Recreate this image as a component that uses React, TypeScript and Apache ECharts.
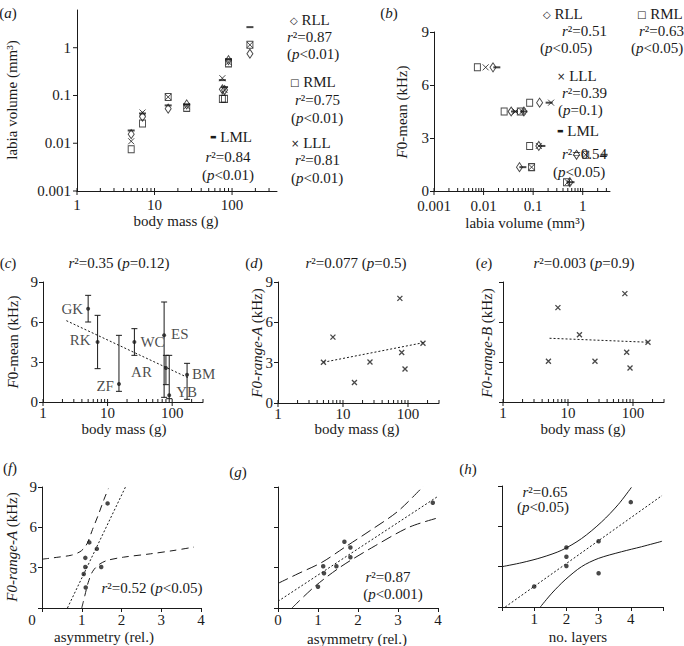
import React, { useEffect, useRef } from 'react';
import * as echarts from 'echarts';

// ---------- data ----------
const SPECIES = ['GK', 'RK', 'ZF', 'WC', 'ES', 'AR', 'YB', 'BM'];
const BODY_MASS = [5, 7, 15, 26, 75, 80, 90, 170];
const VOL_RLL = [0.0155, 0.036, 0.053, 0.065, 0.135, 0.13, 0.55, 0.75];
const VOL_RML = [0.0075, 0.026, 0.093, 0.055, 0.085, 0.085, 0.47, 1.15];
const VOL_LLL = [0.011, 0.044, 0.093, 0.06, 0.23, 0.13, 0.5, 1.15];
const VOL_LML = [0.0185, 0.042, 0.062, 0.065, 0.21, 0.15, 0.58, 2.7];
const F0_MEAN = [7, 4.5, 1.35, 4.5, 5, 2.55, 0.5, 2.05];
const F0_MEAN_LOW = [6, 2.5, 0.8, 3.5, 0.35, 1.3, 0.25, 0.2];
const F0_MEAN_HIGH = [8, 6.5, 5, 5.5, 7.5, 3.5, 3.5, 2.9];
const F0_RANGE_A = [3.03, 4.9, 1.53, 3.05, 7.78, 3.75, 2.53, 4.45];
const F0_RANGE_B = [3.05, 7.08, 5.05, 3.05, 8.13, 3.73, 2.55, 4.48];

const REG_C = [[2.3, 6.1], [180, 1.8]];
const REG_D = [[5, 3.03], [178, 4.5]];
const REG_E = [[5.2, 4.78], [176, 4.48]];

const ASYM_F = [1.65, 1.19, 1.38, 1.09, 1.09, 1.49, 1.05, 1.1];
const RANGE_A_F = [7.78, 4.88, 4.4, 3.73, 3.05, 3.05, 2.53, 1.53];
const REG_F = [[0.64, 0], [2.1, 9]];
const BAND_F_UPPER = [[0, 3.63], [0.405, 3.78], [0.743, 3.93], [0.954, 4.18], [1.08, 4.53], [1.16, 4.95], [1.27, 5.83], [1.42, 6.95], [1.56, 8.08], [1.67, 8.88]];
const BAND_F_LOWER = [[1.0, 0], [1.08, 0.95], [1.16, 1.88], [1.27, 2.7], [1.42, 3.2], [1.63, 3.53], [2.05, 3.78], [2.73, 4.03], [3.32, 4.28], [3.82, 4.53]];

const ASYM_G = [3.87, 1.66, 1.81, 1.81, 1.13, 1.46, 1.15, 1.0];
const RANGE_A_G = [7.83, 4.93, 4.5, 3.78, 3.1, 3.1, 2.58, 1.58];
const REG_G = [[0, 0.5], [3.97, 8.25]];
const BAND_G_UPPER = [[0, 1.83], [0.5, 2.55], [1.1, 3.4], [1.66, 4.5], [2.3, 5.75], [3.0, 7.2], [3.64, 9.08]];
const BAND_G_LOWER = [[0.35, 0], [0.93, 1.63], [1.6, 3.13], [2.43, 4.63], [3.27, 6.0], [3.97, 6.68]];

const LAYERS_H = [1, 2, 2, 2, 3, 3, 4];
const RANGE_A_H = [1.52, 4.43, 3.74, 3.05, 4.89, 2.51, 7.8];
const REG_H = [[0.1, 0], [4.97, 8.29]];
const BAND_H_UPPER = [[0, 3.0], [0.62, 3.3], [1.24, 3.69], [1.86, 4.23], [2.47, 5.09], [3.09, 6.32], [3.61, 7.62], [4.02, 8.9]];
const BAND_H_LOWER = [[1.19, 0], [1.55, 1.03], [1.96, 2.02], [2.47, 3.0], [2.99, 3.61], [3.71, 4.11], [4.33, 4.48], [4.97, 4.89]];

// ---------- style ----------
const FS = 15;
const FONT = 'Liberation Serif';
const INK = '#1a1a1a';
const lineStyle = { color: INK, width: 1 };
const labelBase = { color: INK, fontSize: FS, fontFamily: FONT };
const RICH: any = {
  i: { fontStyle: 'italic', fontSize: FS, fontFamily: FONT, fill: INK },
  m: { fontSize: 10, fontFamily: 'DejaVu Sans', fill: INK },
  d: { fontSize: 7, fontFamily: 'DejaVu Sans', fill: INK },
};

function T(x: number, y: number, text: string, align = 'center', rot = 0) {
  return {
    type: 'text', x, y, rotation: rot, silent: true,
    style: { text, fill: INK, fontSize: FS, fontFamily: FONT, align, verticalAlign: 'middle', rich: RICH },
  };
}

function powFmt(v: number) {
  const l = Math.log10(v);
  const r = Math.round(l);
  if (Math.abs(l - r) > 1e-6) return '';
  return r < 0 ? Math.pow(10, r).toFixed(-r) : String(Math.pow(10, r));
}

function logAxis(gridIndex: number, min: number, max: number, margin: number) {
  return {
    type: 'log', logBase: 10, gridIndex, min, max,
    axisLine: { show: true, onZero: false, lineStyle },
    axisTick: { show: false }, splitLine: { show: false },
    axisLabel: { margin, formatter: powFmt, ...labelBase },
  };
}

function valAxis(gridIndex: number, max: number, interval: number, margin: number, fmt: any) {
  return {
    type: 'value', gridIndex, min: 0, max, interval,
    axisLine: { show: true, onZero: false, lineStyle },
    axisTick: { show: true, length: 4, lineStyle },
    splitLine: { show: false },
    axisLabel: fmt === false ? { show: false } : { margin, formatter: fmt, ...labelBase },
  };
}

function ticks(xi: number, yi: number, pts: number[][], seg: number[]) {
  return {
    type: 'custom', xAxisIndex: xi, yAxisIndex: yi, silent: true, clip: false, z: 3, data: pts,
    renderItem: (_p: any, api: any) => {
      const c = api.coord([api.value(0), api.value(1)]);
      return {
        type: 'line',
        shape: { x1: c[0] + seg[0], y1: c[1] + seg[1], x2: c[0] + seg[2], y2: c[1] + seg[3] },
        style: { stroke: INK, lineWidth: 1 },
      };
    },
  };
}

function minorLog(fromExp: number, toExp: number, maxVal: number) {
  const out: number[] = [];
  for (let e = fromExp; e <= toExp; e++) {
    for (let k = 2; k <= 9; k++) {
      const v = k * Math.pow(10, e);
      if (v <= maxVal * 1.0001) out.push(v);
    }
  }
  return out;
}

const hollow = { color: 'rgba(0,0,0,0)', borderColor: INK, borderWidth: 1 };
const CROSS = 'path://M0,0L10,10M10,0L0,10';
const SYM: any = {
  RLL: { symbol: 'diamond', symbolSize: [6, 9], itemStyle: hollow },
  RML: { symbol: 'rect', symbolSize: [6, 7], itemStyle: hollow },
  LLL: { symbol: CROSS, symbolSize: 6, itemStyle: hollow },
  LML: { symbol: 'rect', symbolSize: [7, 2], itemStyle: { color: INK } },
};

function scatter(xi: number, yi: number, data: any[], sym: any, extra: any = {}) {
  return { type: 'scatter', xAxisIndex: xi, yAxisIndex: yi, data, silent: true, z: 4, ...sym, ...extra };
}

function line(xi: number, yi: number, data: number[][], type: any, smooth: number | boolean = false) {
  return {
    type: 'line', xAxisIndex: xi, yAxisIndex: yi, data, symbol: 'none', showSymbol: false, silent: true,
    smooth, lineStyle: { color: INK, width: 1, type }, z: 2,
  };
}

const DOT = { symbol: 'circle', symbolSize: 4.5, itemStyle: { color: INK } };
const SMALLX = { symbol: CROSS, symbolSize: 5, itemStyle: { color: 'rgba(0,0,0,0)', borderColor: INK, borderWidth: 1.3 } };

const LABEL_PLACE: any[] = [
  ['left', 3, [0, 0]], ['left', 5, [0, -2]], ['left', 3, [0, 2]], ['right', 4, [0, 0]],
  ['right', 5, [0, -1]], ['left', 12, [0, 4]], ['right', 5, [0, -3]], ['right', 3, [0, -1]],
];

function buildOption() {
  const MASS_MAJOR = [1, 10, 100];
  const VOL_MAJOR = [0.001, 0.01, 0.1, 1];
  const yMaxA = Math.pow(10, 0.79);
  const xMaxB = Math.pow(10, 0.55);

  const grid = [
    { left: 77, top: 10, width: 200, height: 181 },
    { left: 434, top: 32, width: 176, height: 159 },
    { left: 43, top: 282, width: 160, height: 120 },
    { left: 278, top: 282, width: 161, height: 121 },
    { left: 503, top: 282, width: 161, height: 120 },
    { left: 42, top: 487, width: 159, height: 121 },
    { left: 278, top: 487, width: 160, height: 121 },
    { left: 502, top: 486, width: 161, height: 121 },
  ].map((g) => ({ ...g, outerBoundsMode: 'none', containLabel: false }));

  const xAxis = [
    logAxis(0, 1, 380, 6),
    logAxis(1, 0.001, xMaxB, 7),
    logAxis(2, 1, 300, 3),
    logAxis(3, 1, 300, 3),
    logAxis(4, 1, 300, 3),
    valAxis(5, 4, 1, 4, (v: number) => (v === 0 ? '' : String(v))),
    valAxis(6, 4, 1, 4, (v: number) => String(v)),
    valAxis(7, 5, 1, 4, (v: number) => (v >= 1 && v <= 4 ? String(v) : '')),
  ];
  const yAxis = [
    logAxis(0, 0.001, yMaxA, 6),
    valAxis(1, 9, 3, 5, (v: number) => String(v)),
    valAxis(2, 9, 3, 5, (v: number) => String(v)),
    valAxis(3, 9, 3, 5, (v: number) => String(v)),
    valAxis(4, 9, 3, 5, false),
    valAxis(5, 9, 3, 5, (v: number) => (v === 0 ? '' : String(v))),
    valAxis(6, 9, 3, 5, false),
    valAxis(7, 9, 3, 5, false),
  ];

  const series: any[] = [];
  // (a)
  series.push(ticks(0, 0, MASS_MAJOR.map((v) => [v, 0.001]), [0, -3, 0, 4]));
  series.push(ticks(0, 0, minorLog(0, 2, 380).map((v) => [v, 0.001]), [0, 0, 0, -3]));
  series.push(ticks(0, 0, VOL_MAJOR.map((v) => [1, v]), [-4, 0, 0, 0]));
  series.push(scatter(0, 0, BODY_MASS.map((m, i) => [m, VOL_RLL[i]]), SYM.RLL));
  series.push(scatter(0, 0, BODY_MASS.map((m, i) => [m, VOL_RML[i]]), SYM.RML));
  series.push(scatter(0, 0, BODY_MASS.map((m, i) => [m, VOL_LLL[i]]), SYM.LLL));
  series.push(scatter(0, 0, BODY_MASS.map((m, i) => [m, VOL_LML[i]]), SYM.LML));
  // (b)
  series.push(ticks(1, 1, VOL_MAJOR.map((v) => [v, 0]), [0, -3, 0, 4]));
  series.push(ticks(1, 1, minorLog(-3, 0, xMaxB).map((v) => [v, 0]), [0, 0, 0, -3]));
  series.push(scatter(1, 1, VOL_RLL.map((v, i) => [v, F0_MEAN[i]]), SYM.RLL));
  series.push(scatter(1, 1, VOL_RML.map((v, i) => [v, F0_MEAN[i]]), SYM.RML));
  series.push(scatter(1, 1, VOL_LLL.map((v, i) => [v, F0_MEAN[i]]), SYM.LLL));
  series.push(scatter(1, 1, VOL_LML.map((v, i) => [v, F0_MEAN[i]]), SYM.LML));
  // (c),(d),(e) ticks
  for (const k of [2, 3, 4]) {
    series.push(ticks(k, k, MASS_MAJOR.map((v) => [v, 0]), [0, -3, 0, 4]));
    series.push(ticks(k, k, minorLog(0, 2, 300).map((v) => [v, 0]), [0, 0, 0, -3]));
  }
  // (c)
  series.push({
    type: 'custom', xAxisIndex: 2, yAxisIndex: 2, silent: true, clip: false, z: 3,
    data: BODY_MASS.map((m, i) => [m, F0_MEAN_LOW[i], F0_MEAN_HIGH[i]]),
    encode: { x: 0, y: [1, 2] },
    renderItem: (_p: any, api: any) => {
      const lo = api.coord([api.value(0), api.value(1)]);
      const hi = api.coord([api.value(0), api.value(2)]);
      const st = { stroke: INK, lineWidth: 1 };
      return {
        type: 'group',
        children: [
          { type: 'line', shape: { x1: lo[0], y1: lo[1], x2: hi[0], y2: hi[1] }, style: st },
          { type: 'line', shape: { x1: lo[0] - 3, y1: lo[1], x2: lo[0] + 3, y2: lo[1] }, style: st },
          { type: 'line', shape: { x1: hi[0] - 3, y1: hi[1], x2: hi[0] + 3, y2: hi[1] }, style: st },
        ],
      };
    },
  });
  series.push(line(2, 2, REG_C, [2, 2]));
  series.push(scatter(2, 2, BODY_MASS.map((m, i) => ({
    value: [m, F0_MEAN[i]],
    label: {
      show: true, formatter: SPECIES[i], position: LABEL_PLACE[i][0], distance: LABEL_PLACE[i][1],
      offset: LABEL_PLACE[i][2], ...labelBase,
    },
  })), { symbol: 'circle', symbolSize: 4, itemStyle: { color: INK } }));
  // (d)
  series.push(line(3, 3, REG_D, [2, 2]));
  series.push(scatter(3, 3, BODY_MASS.map((m, i) => [m, F0_RANGE_A[i]]), SMALLX));
  // (e)
  series.push(line(4, 4, REG_E, [2, 2]));
  series.push(scatter(4, 4, BODY_MASS.map((m, i) => [m, F0_RANGE_B[i]]), SMALLX));
  // (f)
  series.push(line(5, 5, REG_F, [2, 2]));
  series.push(line(5, 5, BAND_F_UPPER, [7, 5], 0.3));
  series.push(line(5, 5, BAND_F_LOWER, [7, 5], 0.3));
  series.push(scatter(5, 5, ASYM_F.map((a, i) => [a, RANGE_A_F[i]]), DOT));
  // (g)
  series.push(line(6, 6, REG_G, [2, 2]));
  series.push(line(6, 6, BAND_G_UPPER, [11, 5], 0.3));
  series.push(line(6, 6, BAND_G_LOWER, [11, 5], 0.3));
  series.push(scatter(6, 6, ASYM_G.map((a, i) => [a, RANGE_A_G[i]]), DOT));
  // (h)
  series.push(line(7, 7, REG_H, [2, 2]));
  series.push(line(7, 7, BAND_H_UPPER, 'solid', 0.3));
  series.push(line(7, 7, BAND_H_LOWER, 'solid', 0.3));
  series.push(scatter(7, 7, LAYERS_H.map((a, i) => [a, RANGE_A_H[i]]), DOT));

  const R = Math.PI / 2;
  const graphic = [
    // (a)
    T(8, 13, '({i|a})'),
    T(12, 100, 'labia volume (mm³)', 'center', R),
    T(176, 221, 'body mass (g)'),
    T(290, 20, '{m|◇} RLL', 'left'),
    T(287, 37, '{i|r}²=0.87', 'left'),
    T(287, 54, '({i|p}<0.01)', 'left'),
    T(290, 82, '{m|□} RML', 'left'),
    T(295, 100, '{i|r}²=0.75', 'left'),
    T(291, 118, '({i|p}<0.01)', 'left'),
    T(291, 143, '{m|×} LLL', 'left'),
    T(295, 160, '{i|r}²=0.81', 'left'),
    T(291, 178, '({i|p}<0.01)', 'left'),
    T(231, 137, '{d|▬} LML'),
    T(228, 157, '{i|r}²=0.84'),
    T(228, 175, '({i|p}<0.01)'),
    // (b)
    T(389, 13, '({i|b})'),
    T(402, 112, '{i|F}0-mean (kHz)', 'center', R),
    T(525, 223, 'labia volume (mm³)'),
    T(543, 14, '{m|◇} RLL', 'left'),
    T(562, 31, '{i|r}²=0.51', 'left'),
    T(540, 48, '({i|p}<0.05)', 'left'),
    T(637, 14, '{m|□} RML', 'left'),
    T(639, 31, '{i|r}²=0.63', 'left'),
    T(631, 48, '({i|p}<0.05)', 'left'),
    T(557, 76, '{m|×} LLL', 'left'),
    T(562, 93, '{i|r}²=0.39', 'left'),
    T(558, 110, '({i|p}=0.1)', 'left'),
    T(557, 131, '{d|▬} LML', 'left'),
    T(562, 154, '{i|r}²=0.54', 'left'),
    T(553, 172, '({i|p}<0.05)', 'left'),
    // (c)
    T(8, 263, '({i|c})'),
    T(119, 263, '{i|r}²=0.35 ({i|p}=0.12)'),
    T(13, 342, '{i|F}0-mean (kHz)', 'center', R),
    T(124, 429, 'body mass (g)'),
    // (d)
    T(254, 263, '({i|d})'),
    T(356, 263, '{i|r}²=0.077 ({i|p}=0.5)'),
    T(257, 343, '{i|F0-range-A} (kHz)', 'center', R),
    T(357, 429, 'body mass (g)'),
    // (e)
    T(484, 263, '({i|e})'),
    T(584, 263, '{i|r}²=0.003 ({i|p}=0.9)'),
    T(487, 343, '{i|F0-range-B} (kHz)', 'center', R),
    T(583, 429, 'body mass (g)'),
    // (f)
    T(10, 468, '({i|f})'),
    T(12, 547, '{i|F0-range-A} (kHz)', 'center', R),
    T(152, 588, '{i|r}²=0.52 ({i|p}<0.05)'),
    T(104, 637, 'asymmetry (rel.)'),
    T(32, 620, '0'),
    // (g)
    T(238, 472, '({i|g})'),
    T(388, 577, '{i|r}²=0.87'),
    T(393, 594, '({i|p}<0.001)'),
    T(357, 639, 'asymmetry (rel.)'),
    // (h)
    T(468, 469, '({i|h})'),
    T(545, 492, '{i|r}²=0.65'),
    T(543, 507, '({i|p}<0.05)'),
    T(578, 637, 'no. layers'),
  ];

  return {
    animation: false,
    backgroundColor: '#fff',
    textStyle: { fontFamily: FONT, color: INK },
    grid,
    xAxis,
    yAxis,
    series,
    graphic,
  };
}

export default function App() {
  const ref = useRef<HTMLDivElement>(null);
  useEffect(() => {
    const chart = echarts.init(ref.current as HTMLDivElement, undefined, { renderer: 'svg' });
    chart.setOption(buildOption() as any);
    return () => chart.dispose();
  }, []);
  return (
    <div
      ref={ref}
      style={{ position: 'fixed', left: 0, top: 0, width: 684, height: 646, background: '#fff' }}
    />
  );
}
